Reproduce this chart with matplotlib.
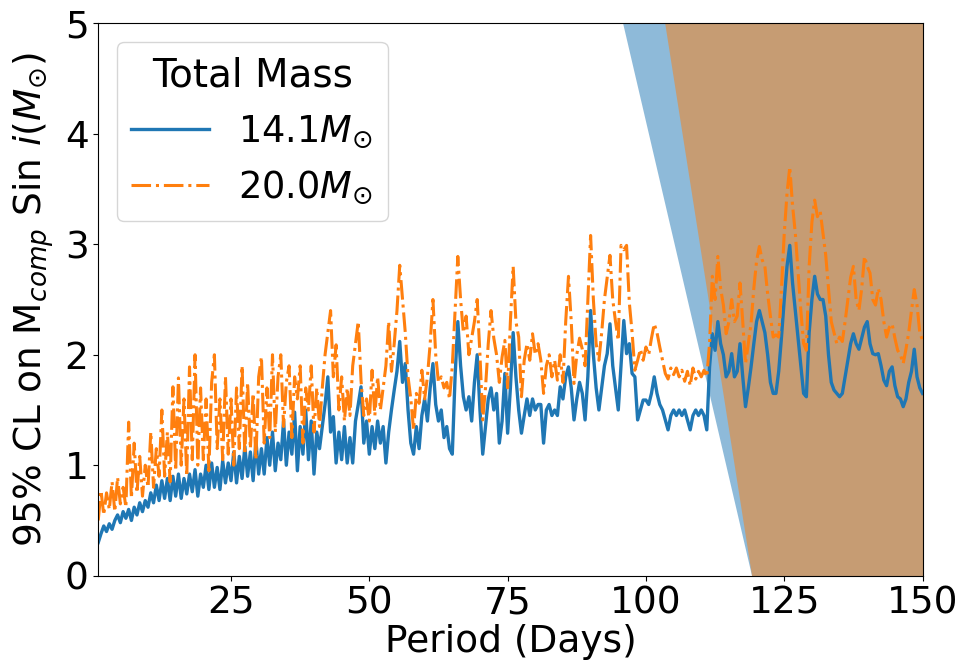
import numpy as np
import matplotlib
matplotlib.use("Agg")
import matplotlib.pyplot as plt

# period grid (days), 0.5 day sampling
period = np.arange(1.0, 150.01, 0.5)

# 95% CL upper limit for total mass 14.1 Msun
cl_14 = [
    0.30, 0.38, 0.45, 0.40, 0.47, 0.42, 0.50, 0.55, 0.48, 0.58, 0.52, 0.60, 0.50, 0.62, 0.55, 0.66, 0.58, 0.68, 0.62, 0.75,
    0.66, 0.82, 0.68, 0.86, 0.70, 0.88, 0.68, 0.90, 0.72, 0.92, 0.70, 0.88, 0.74, 0.92, 0.76, 0.96, 0.72, 0.92, 0.80, 1.00,
    0.78, 1.02, 0.80, 0.98, 0.78, 1.04, 0.84, 1.02, 0.86, 1.12, 0.84, 1.08, 0.88, 1.17, 0.90, 1.12, 0.86, 1.22, 0.92, 1.15,
    0.92, 1.25, 1.00, 1.30, 0.95, 1.20, 1.05, 1.40, 1.00, 1.30, 1.10, 1.48, 0.95, 1.35, 1.10, 1.50, 1.05, 1.40, 0.92, 1.30,
    1.15, 1.35, 1.55, 1.80, 1.30, 1.44, 1.02, 1.30, 1.05, 1.35, 1.02, 1.25, 1.02, 1.40, 1.55, 1.71, 1.20, 1.40, 1.10, 1.35,
    1.15, 1.40, 1.20, 1.35, 1.02, 1.30, 1.50, 1.68, 1.85, 2.12, 1.75, 1.92, 1.50, 1.20, 1.10, 1.35, 1.15, 1.45, 1.60, 1.40,
    1.70, 1.92, 1.55, 1.40, 1.50, 1.25, 1.35, 1.15, 1.10, 1.80, 2.30, 1.90, 1.62, 1.50, 1.62, 1.40, 1.75, 2.00, 1.50, 1.10,
    1.35, 1.60, 1.70, 1.50, 1.65, 1.20, 1.40, 1.83, 1.29, 1.70, 2.20, 1.80, 1.50, 1.29, 1.45, 1.60, 1.45, 1.60, 1.50, 1.55,
    1.55, 1.20, 1.50, 1.55, 1.45, 1.50, 1.45, 1.71, 1.60, 1.80, 1.89, 1.70, 1.41, 1.60, 1.75, 1.65, 1.41, 1.80, 2.40, 2.00,
    1.70, 1.50, 1.70, 1.90, 2.01, 2.28, 1.90, 1.70, 1.50, 1.90, 2.31, 2.01, 2.10, 1.83, 1.80, 1.41, 1.50, 1.59, 1.59, 1.55,
    1.65, 1.80, 1.65, 1.55, 1.50, 1.41, 1.32, 1.45, 1.50, 1.45, 1.50, 1.45, 1.50, 1.41, 1.32, 1.45, 1.50, 1.45, 1.50, 1.45,
    1.32, 1.89, 2.19, 2.04, 2.30, 2.10, 2.00, 1.80, 1.85, 2.01, 1.80, 1.85, 2.10, 1.80, 1.53, 1.70, 1.89, 2.10, 2.30, 2.40,
    2.30, 2.20, 2.00, 1.75, 1.65, 1.65, 1.85, 2.16, 2.50, 2.80, 2.99, 2.65, 2.40, 2.16, 1.90, 1.65, 1.62, 2.20, 2.50, 2.71,
    2.55, 2.50, 2.50, 2.35, 2.00, 1.75, 1.68, 1.65, 1.62, 1.65, 1.80, 1.95, 2.10, 2.19, 2.10, 2.05, 2.15, 2.25, 2.30, 2.10,
    2.01, 2.00, 2.01, 1.90, 1.77, 1.72, 1.85, 1.89, 1.72, 1.62, 1.60, 1.53, 1.60, 1.75, 1.85, 2.05, 1.80, 1.70, 1.65,
]

# 95% CL upper limit for total mass 20.0 Msun
cl_20 = [
    0.50, 0.77, 0.55, 0.75, 0.60, 0.85, 0.58, 0.89, 0.65, 0.80, 0.62, 1.39, 0.70, 1.20, 0.75, 1.08, 0.72, 1.00, 0.80, 1.30,
    0.80, 1.15, 0.90, 1.50, 0.90, 1.30, 0.85, 1.71, 0.95, 1.79, 1.00, 1.60, 0.90, 1.89, 1.05, 2.00, 1.00, 1.70, 1.05, 1.60,
    0.95, 1.75, 2.00, 1.15, 1.60, 1.05, 1.80, 1.10, 1.60, 1.00, 1.70, 1.15, 1.90, 1.10, 1.75, 1.15, 1.65, 1.05, 1.80, 1.98,
    1.20, 1.70, 1.25, 2.00, 1.30, 1.80, 2.00, 1.35, 1.75, 1.90, 1.25, 1.80, 1.60, 1.90, 1.20, 1.70, 1.50, 1.90, 1.30, 1.70,
    1.35, 1.70, 2.00, 2.20, 2.40, 1.80, 2.09, 1.50, 1.80, 1.40, 1.70, 1.45, 1.90, 2.10, 2.30, 1.77, 1.45, 1.60, 1.40, 1.86,
    1.45, 1.80, 1.50, 1.70, 1.90, 2.30, 1.85, 2.10, 2.40, 2.81, 2.50, 2.20, 1.80, 1.60, 1.32, 1.65, 1.56, 1.86, 1.60, 1.80,
    2.10, 2.50, 2.00, 1.75, 1.80, 1.70, 1.75, 1.60, 1.90, 2.40, 2.89, 2.50, 2.20, 2.35, 2.00, 2.15, 2.30, 2.50, 2.00, 1.41,
    1.70, 2.10, 2.40, 2.15, 2.00, 1.75, 1.98, 2.13, 1.70, 2.30, 2.80, 2.30, 2.16, 1.62, 1.95, 2.10, 1.95, 2.19, 2.00, 2.10,
    1.95, 1.65, 1.90, 2.00, 1.80, 1.95, 1.77, 2.00, 1.75, 2.30, 2.71, 2.30, 1.74, 2.00, 2.15, 2.05, 1.90, 2.50, 3.08, 2.50,
    2.10, 1.95, 2.20, 2.50, 2.70, 2.90, 2.50, 2.30, 2.13, 2.99, 2.95, 2.99, 2.47, 2.20, 1.86, 1.95, 2.05, 1.95, 2.07, 2.00,
    2.15, 2.28, 2.20, 2.07, 1.95, 1.83, 1.78, 1.88, 1.82, 1.88, 1.80, 1.86, 1.76, 1.85, 1.72, 1.88, 1.78, 1.85, 1.80, 1.86,
    1.80, 2.10, 2.71, 2.50, 2.89, 2.60, 2.45, 2.19, 2.30, 2.50, 2.30, 2.35, 2.65, 2.30, 1.92, 2.10, 2.28, 2.60, 2.85, 2.98,
    2.86, 2.80, 2.55, 2.35, 2.16, 2.18, 2.16, 2.60, 3.10, 3.46, 3.70, 3.35, 3.10, 2.75, 2.40, 2.10, 2.04, 2.80, 3.20, 3.40,
    3.25, 3.30, 3.10, 2.90, 2.60, 2.30, 2.20, 2.10, 2.16, 2.12, 2.30, 2.50, 2.70, 2.80, 2.50, 2.40, 2.60, 2.89, 2.80, 2.74,
    2.50, 2.45, 2.60, 2.50, 2.30, 2.16, 2.25, 2.28, 2.15, 2.04, 2.00, 1.92, 2.05, 2.20, 2.40, 2.59, 2.45, 2.20, 2.13,
]

# excluded regions: left edge period at y=0 and y=5
excl_y = [0, 5]
excl_14_edge = [119.1, 95.8]
excl_20_edge = [119.1, 103.4]

plt.rcParams["font.family"] = ["DejaVu Sans"]

fig = plt.figure(figsize=(9.63, 6.72), dpi=100)
ax = fig.add_axes([0.102, 0.1433, 0.856, 0.822])

ax.fill_betweenx(excl_y, excl_14_edge, 150, color="#1f77b4", alpha=0.5, linewidth=0)
ax.fill_betweenx(excl_y, excl_20_edge, 150, color="#ff7f0e", alpha=0.5, linewidth=0)

ax.plot(period, cl_14, color="#1f77b4", lw=2.4, label=r"14.1$M_{\odot}$")
ax.plot(period, cl_20, color="#ff7f0e", lw=2.2, ls="-.", label=r"20.0$M_{\odot}$")

ax.set_xlim(1, 150)
ax.set_ylim(0, 5)
ax.set_xticks([25, 50, 75, 100, 125, 150])
ax.set_yticks([0, 1, 2, 3, 4, 5])
ax.tick_params(labelsize=27)
ax.set_xlabel("Period (Days)", fontsize=27, labelpad=2)
ax.set_ylabel(r"95% CL on M$_{comp}$ Sin $i(M_{\odot})$", fontsize=27, labelpad=6)

ax.legend(title="Total Mass", fontsize=26.5, title_fontsize=28, loc="upper left",
          handlelength=2.1)

fig.savefig("out.png", dpi=100)
